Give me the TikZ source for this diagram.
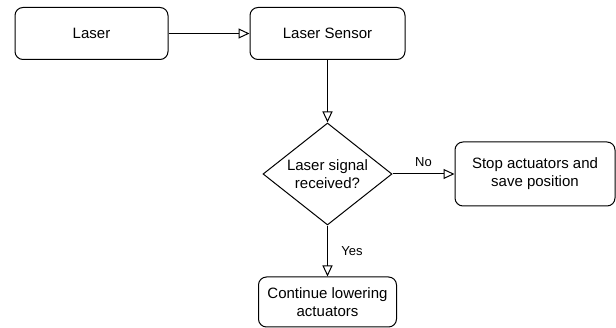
\documentclass[tikz,border=0pt]{standalone}
\usepackage{fontspec}
\setmainfont{Liberation Sans}
\usepackage{tikz}
\usetikzlibrary{arrows.meta,shapes}

\begin{document}
\begin{tikzpicture}[x=1pt,y=-1pt,line width=1pt,
  box/.style={rectangle,rounded corners=8pt,draw,inner sep=2pt,align=center,font=\fontsize{15}{18}\selectfont},
  test/.style={diamond,draw,inner sep=0pt,shape aspect=1.26,align=center,font=\fontsize{15}{18}\selectfont},
  flow/.style={-{Triangle[open,length=11pt,width=10pt]}},
  lbl/.style={font=\fontsize{13}{15}\selectfont}]
\useasboundingbox (0,0) rectangle (616,328);
\node[box,minimum width=153pt,minimum height=52pt] (laser) at (91.5,33.5) {Laser};
\node[box,minimum width=155pt,minimum height=52pt] (sensor) at (327.5,33.5) {Laser Sensor};
\node[test,minimum width=129pt,minimum height=102pt] (signal) at (327.5,174) {Laser signal\\received?};
\node[box,minimum width=160pt,minimum height=64pt] (stop) at (535,174) {Stop actuators and\\save position};
\node[box,minimum width=138pt,minimum height=50pt] (lower) at (327.5,302) {Continue lowering\\actuators};
\draw[flow]  (laser) edge (sensor);
\draw[flow]  (sensor) edge (signal);
\draw[flow]  (signal) edge node[lbl,above=4pt] {No} (stop);
\draw[flow]  (signal) edge node[lbl,right=10pt] {Yes} (lower);
\end{tikzpicture}
\end{document}
